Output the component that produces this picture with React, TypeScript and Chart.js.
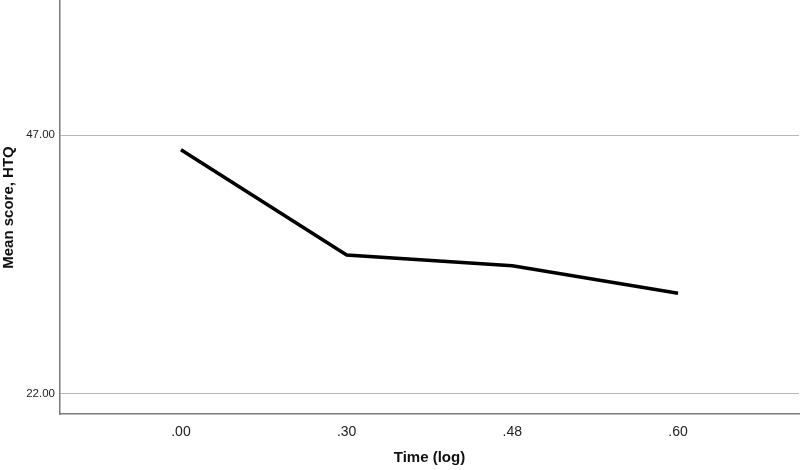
import React, { useEffect, useRef } from "react";
import { Chart, registerables } from "chart.js";

Chart.register(...registerables);

const categories = [".00", ".30", ".48", ".60"];
const meanScores = [45.6, 35.4, 34.35, 31.7];
const yTickValues = [22, 47];

export default function App() {
  const ref = useRef<HTMLCanvasElement | null>(null);

  useEffect(() => {
    if (!ref.current) return;
    const chart = new Chart(ref.current, {
      type: "line",
      data: {
        datasets: [
          {
            data: meanScores.map((v, i) => ({ x: i, y: v })),
            borderColor: "#000000",
            borderWidth: 3.5,
            pointRadius: 0,
            tension: 0,
            fill: false,
          },
        ],
      },
      options: {
        animation: false,
        responsive: false,
        maintainAspectRatio: false,
        layout: { padding: { top: 1, right: 1, left: 0, bottom: 0 } },
        plugins: { legend: { display: false }, tooltip: { enabled: false } },
        scales: {
          x: {
            type: "linear",
            min: -0.73,
            max: 3.73,
            afterBuildTicks: (axis: any) => {
              axis.ticks = categories.map((_, i) => ({ value: i }));
            },
            afterFit: (axis: any) => {
              axis.height = 56;
              axis.paddingLeft = 0;
              axis.paddingRight = 0;
            },
            ticks: {
              autoSkip: false,
              maxRotation: 0,
              padding: 10,
              color: "#222",
              font: { family: "'Liberation Sans', Arial, sans-serif", size: 14 },
              callback: (v: any) => categories[Math.round(Number(v))] ?? "",
            },
            grid: { display: false, drawTicks: false },
            border: { display: true, color: "#7a7a7a", width: 1.5 },
            title: {
              display: true,
              text: "Time (log)",
              color: "#111",
              font: { family: "'Liberation Sans', Arial, sans-serif", size: 15, weight: "bold" },
              padding: { top: 0, bottom: 3 },
            },
          },
          y: {
            type: "linear",
            min: 20,
            max: 60,
            afterBuildTicks: (axis: any) => {
              axis.ticks = yTickValues.map((v) => ({ value: v }));
            },
            afterFit: (axis: any) => {
              axis.width = 60;
              axis.paddingTop = 0;
              axis.paddingBottom = 0;
            },
            ticks: {
              padding: 5,
              color: "#222",
              font: { family: "'Liberation Sans', Arial, sans-serif", size: 11.5 },
              callback: (v: any) => Number(v).toFixed(2),
            },
            grid: { color: "#b8b8b8", lineWidth: 1, drawTicks: false },
            border: { display: true, color: "#7a7a7a", width: 1.5 },
            title: {
              display: true,
              text: "Mean score, HTQ",
              color: "#111",
              font: { family: "'Liberation Sans', Arial, sans-serif", size: 15, weight: "bold" },
              padding: { top: 0, bottom: 0 },
            },
          },
        },
      },
    });
    return () => chart.destroy();
  }, []);

  return (
    <div style={{ position: "fixed", left: 0, top: 0, width: 800, height: 470, background: "#fff" }}>
      <canvas ref={ref} width={800} height={470} style={{ display: "block", width: 800, height: 470 }} />
    </div>
  );
}
